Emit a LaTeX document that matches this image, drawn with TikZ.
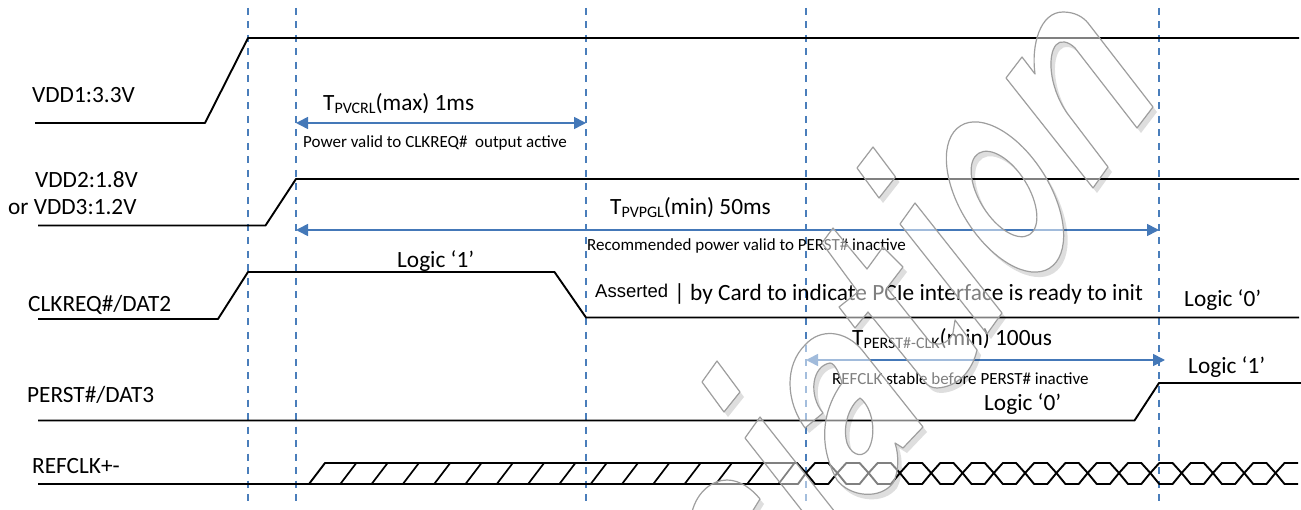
\documentclass[tikz,border=0pt]{standalone}
\usepackage{fontspec}
\setmainfont{Carlito}
\newfontfamily\arialfont{Liberation Sans}
\usetikzlibrary{arrows.meta}
\definecolor{markerblue}{HTML}{4A7EBB}
\definecolor{spanblue}{HTML}{4478B8}
\newcommand{\tsub}[1]{\raisebox{-3.5pt}{\fontsize{16}{16}\selectfont #1}}
% watermark letter: shadow outside the letter, pale veil, thin outline
\newcommand{\wmglyph}[1]{%
    \begin{scope}[even odd rule]
        \clip (0,0) rectangle (1301,510) #1;
        \fill[wmshadow,shift={(4,5)}] #1;
    \end{scope}
    \fill[wmveil] #1;
    \draw[wmline] #1;
}
\tikzset{
    wave/.style={line width=1.9pt,color=black,line join=round},
    marker/.style={line width=1.9pt,color=markerblue,dash pattern=on 7pt off 6.5pt},
    span/.style={line width=1.6pt,color=spanblue,<->,>={Triangle[length=12pt,width=12pt]}},
    siglabel/.style={inner sep=0pt,anchor=west,yshift=-1.5pt,font=\fontsize{23.3}{27}\selectfont},
    note/.style={inner sep=0pt,anchor=west,yshift=-1pt,font=\fontsize{17}{20}\selectfont},
    wmshadow/.style={fill=black,fill opacity=0.13,even odd rule},
    wmveil/.style={fill=white,fill opacity=0.5,even odd rule},
    wmline/.style={color=black!38,line width=1.2pt,line join=round},
}
\begin{document}
\begin{tikzpicture}[x=1pt,y=-1pt]
    \useasboundingbox (0,0) rectangle (1301,510);
    % vertical markers
    \foreach \name/\xpos in {a/248,b/296,c/586,d/806,e/1159}{
        \coordinate (top\name) at (\xpos,8);
        \coordinate (bot\name) at (\xpos,505);
        \draw[marker] (top\name) -- (bot\name);
    }
    % signals
    \draw[wave] (35,123) -- (205,123) -- (248,38) -- (1299,38);
    \draw[wave] (38,225.5) -- (265.5,225.5) -- (296,179) -- (1299,179);
    \draw[wave] (38,319) -- (218,319) -- (248,272) -- (554.5,272) -- (586,317.5) -- (1299,317.5);
    \draw[wave] (38,420.5) -- (1134.5,420.5) -- (1159,383) -- (1301,383);
    % clock, unstable then toggling
    \draw[wave] (38,484) -- (798,484) -- (806,473);
    \draw[wave] (309,484) -- (325,463) -- (797,463) -- (806,473);
    \foreach \n in {1,...,15}{
        \draw[wave,line width=1.7pt] (309+31.3*\n,484) -- (325+31.3*\n,463);
    }
    \foreach \n in {0,...,14}{
        \pgfmathsetmacro{\xcross}{806+31.3*\n}
        \draw[wave] (\xcross,473) -- (\xcross+9,463) -- (\xcross+22.3,463) -- (\xcross+31.3,473)
            -- (\xcross+22.3,484) -- (\xcross+9,484) -- cycle;
    }
    \draw[wave] (1298,463) -- (1284.5,463) -- (1275.5,473) -- (1284.5,484) -- (1298,484);
    % spans
    \coordinate (pvcrlL) at (296,123);
    \coordinate (pvcrlR) at (586,123);
    \coordinate (pvpglL) at (296,230);
    \coordinate (pvpglR) at (1159,230);
    \coordinate (perstL) at (806,360);
    \coordinate (perstR) at (1165,360);
    \draw[span] (pvcrlL) -- (pvcrlR);
    \draw[span] (pvpglL) -- (pvpglR);
    \draw[span] (perstL) -- (perstR);
    % labels
    \node[siglabel] (vddone) at (32,94) {VDD1:3.3V};
    \node[siglabel] (vddtwo) at (35,178) {VDD2:1.8V};
    \node[siglabel] (vddthree) at (8,206) {or VDD3:1.2V};
    \node[siglabel] (clkreq) at (28,303) {CLKREQ\#/DAT2};
    \node[siglabel] (perst) at (27,393) {PERST\#/DAT3};
    \node[siglabel] (refclk) at (32,465) {REFCLK+-};
    \node[siglabel] (pvcrl) at (323,102) {T\tsub{PVCRL}(max) 1ms};
    \node[note] (pvcrlnote) at (303,142) {Power valid to CLKREQ\#\ \ output active};
    \node[siglabel] (pvpgl) at (610,206) {T\tsub{PVPGL}(min) 50ms};
    \node[note] (pvpglnote) at (587,245) {Recommended power valid to PERST\# inactive};
    \node[siglabel] (logicA) at (397,260) {Logic ‘1’};
    \node[inner sep=0pt,anchor=west,font=\arialfont\fontsize{18.5}{21}\selectfont] (asserted) at (595,291) {Asserted};
    \node[siglabel] (bycard) at (674,292) {| by Card to indicate PCIe interface is ready to init};
    \node[siglabel] (logicB) at (1184,299) {Logic ‘0’};
    \node[siglabel] (perstclk) at (852,337) {T\tsub{PERST\#-CLK}(min) 100us};
    \node[note] (perstnote) at (832,378) {REFCLK stable before PERST\# inactive};
    \node[siglabel] (logicC) at (1188,366) {Logic ‘1’};
    \node[siglabel] (logicD) at (984,403) {Logic ‘0’};
    % watermark
    \begin{scope}
        \clip (0,0) rectangle (1301,510);
        \wmglyph{(1006,78) -- (1022,57) -- (1035,74) .. controls (1031,45) and (1040,12) .. (1063,12) .. controls (1075,12) and (1083,17) .. (1088,23) -- (1153,107) -- (1137,128) -- (1075,48) .. controls (1068,41) and (1060,40) .. (1056,45) .. controls (1048,54) and (1048,85) .. (1067,113) -- (1108,167) -- (1093,188) -- cycle}
        \wmglyph{(1049.5,268.2) .. controls (1028.4,281.4) and (991.4,260.2) .. (966.8,220.9) .. controls (942.2,181.6) and (939.4,139) .. (960.5,125.8) .. controls (981.6,112.6) and (1018.6,133.8) .. (1043.2,173.1) .. controls (1067.8,212.4) and (1070.6,255) .. (1049.5,268.2) -- cycle (1029.4,234.7) .. controls (1017.9,241.9) and (997.1,229.5) .. (983.1,207) .. controls (969.1,184.5) and (967.1,160.5) .. (978.6,153.3) .. controls (990.1,146.1) and (1010.9,158.5) .. (1024.9,181) .. controls (1038.9,203.5) and (1040.9,227.5) .. (1029.4,234.7) -- cycle}
        \wmglyph{(873,147) -- (895.5,177) -- (879,198) -- (857,168) -- cycle}
        \wmglyph{(915,203) -- (1002,313) -- (987,334) -- (900,224) -- cycle}
        \wmglyph{(822,243) -- (833,228) -- (867,269) -- (883,247) -- (903,267) -- (887,288) -- (930,342) .. controls (937,346) and (948,345) .. (953,333) -- (955,320) -- (977,350) .. controls (972,372) and (957,387) .. (937,388) .. controls (931,388) and (927,385) .. (925,382) -- (868,312) -- (855,328) -- (839,307) -- (858,292) -- cycle}
        \wmglyph{(805,428) -- (823,413) .. controls (808,395) and (812,366) .. (830,363) .. controls (835,363) and (840,375) .. (842,383) .. controls (826,405) and (815,440) .. (837,480) .. controls (850,497) and (880,500) .. (893,483) .. controls (899,472) and (899,455) .. (895,443) -- (903,448) -- (923,427) -- (862,350) .. controls (845,330) and (820,328) .. (805,345) .. controls (785,365) and (785,400) .. (805,428) -- cycle (860,398) .. controls (873,408) and (877,435) .. (868,450) .. controls (860,460) and (850,452) .. (847,443) .. controls (842,425) and (850,405) .. (860,398) -- cycle}
        \wmglyph{(717,361) -- (740,392) -- (724,412) -- (702,382) -- cycle}
        \wmglyph{(760,417) -- (835,512) -- (803,512) -- (745,438) -- cycle}
        \wmglyph{(692,512) .. controls (697,492) and (712,480) .. (727,480) .. controls (740,480) and (752,489) .. (760,499) -- (752,512) -- cycle}
    \end{scope}
\end{tikzpicture}
\end{document}
